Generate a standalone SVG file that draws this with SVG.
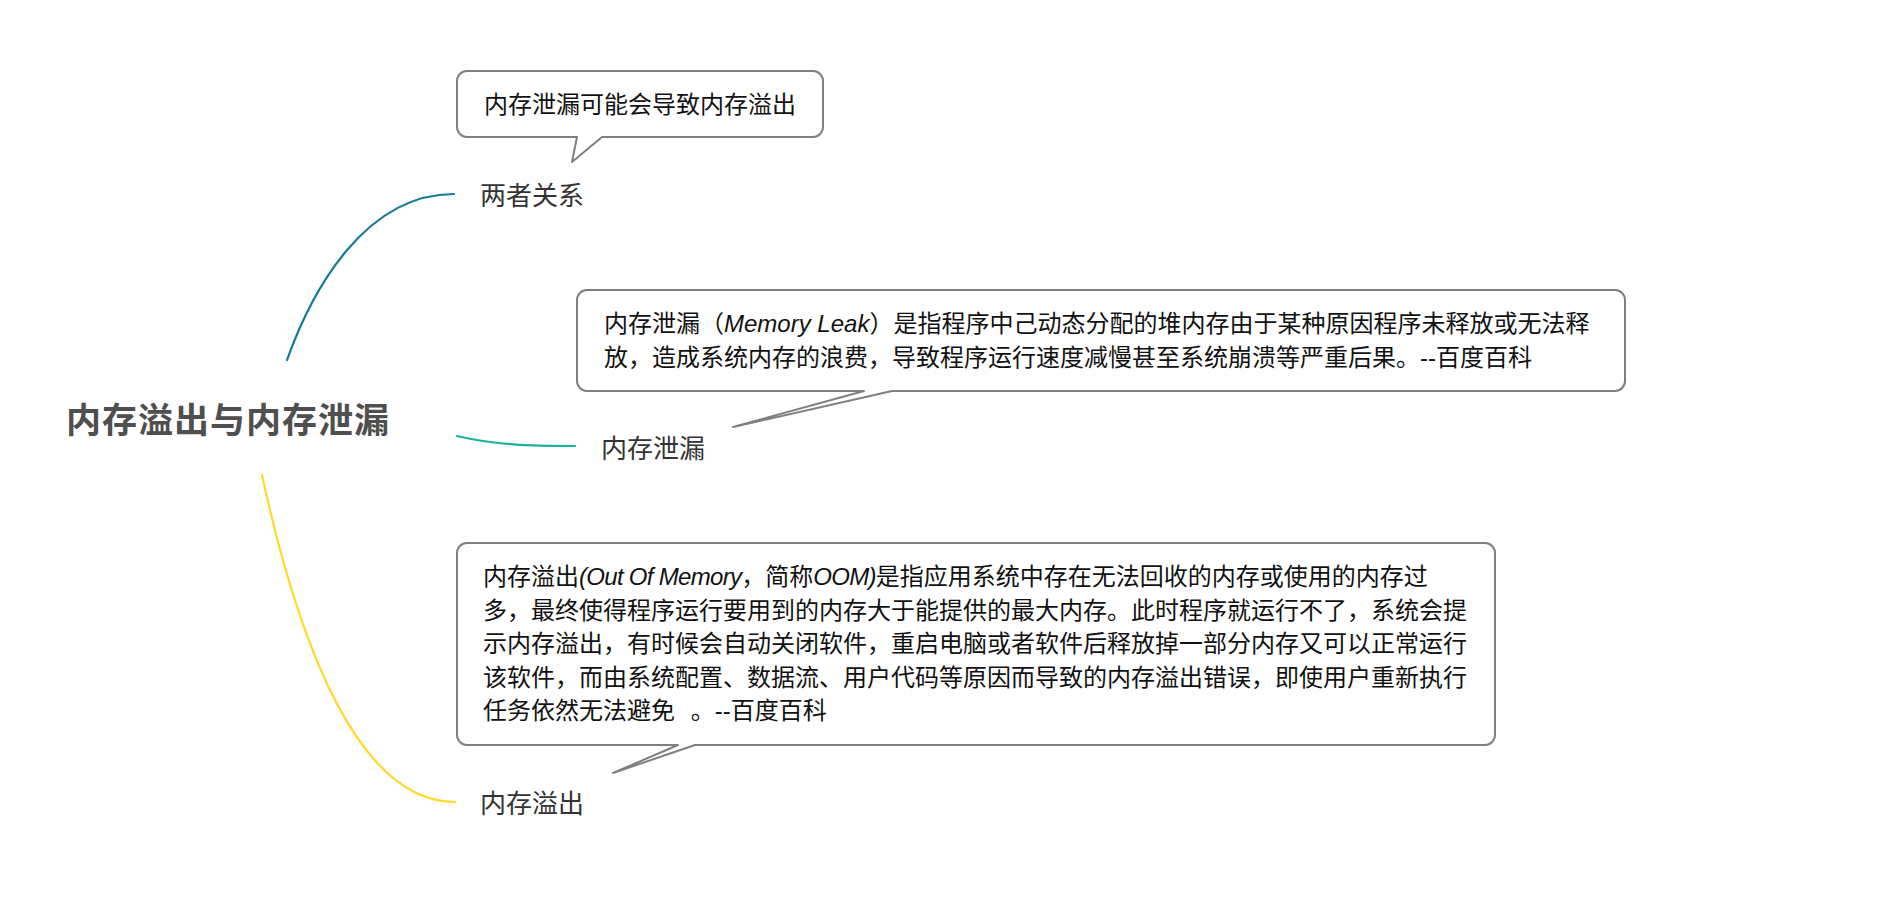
<svg xmlns="http://www.w3.org/2000/svg" width="1884" height="914" viewBox="0 0 1884 914">
<style>
.title{font-family:"Noto Sans CJK SC","Liberation Sans",sans-serif;font-size:35px;font-weight:bold;fill:#4f4f4f;letter-spacing:1px}
.label{font-family:"Noto Sans CJK SC","Liberation Sans",sans-serif;font-size:26px;fill:#333333}
.note{font-family:"Liberation Sans","Noto Sans CJK SC",sans-serif;font-size:24px;fill:#111111}
.it{font-style:italic}
.tight{letter-spacing:-0.7px}
.callout{fill:#ffffff;stroke:#808080;stroke-width:2;stroke-linejoin:round}
.edge{fill:none;stroke-width:2.2;stroke-linecap:round}
</style>
<rect width="1884" height="914" fill="#ffffff"/>
<g id="connectors">
<path class="edge" stroke="#137c95" d="M287,360 C312,290 365,194 454,194"/>
<path class="edge" stroke="#1bb39a" d="M457,436 C495,445 530,446 575,446"/>
<path class="edge" stroke="#ffd92e" d="M262,475 C300,650 360,802 455,802"/>
</g>
<g id="root">
<text class="title" x="66" y="433">内存溢出与内存泄漏</text>
</g>
<g id="node-relation">
<text class="label" x="480" y="205">两者关系</text>
</g>
<g id="callout-relation">
<path class="callout" d="M467,71 H813 A10,10 0 0 1 823,81 V127 A10,10 0 0 1 813,137 H602 L572,162 L577,137 H467 A10,10 0 0 1 457,127 V81 A10,10 0 0 1 467,71 Z"/>
<text class="note" x="484" y="113">内存泄漏可能会导致内存溢出</text>
</g>
<g id="node-leak">
<text class="label" x="601" y="458">内存泄漏</text>
</g>
<g id="callout-leak">
<path class="callout" d="M587,290 H1615 A10,10 0 0 1 1625,300 V381 A10,10 0 0 1 1615,391 H892 L733,427 L864,391 H587 A10,10 0 0 1 577,381 V300 A10,10 0 0 1 587,290 Z"/>
<text class="note" x="604" y="332">内存泄漏（<tspan class="it">Memory Leak</tspan>）是指程序中己动态分配的堆内存由于某种原因程序未释放或无法释</text>
<text class="note" x="604" y="366">放，造成系统内存的浪费，导致程序运行速度减慢甚至系统崩溃等严重后果。--百度百科</text>
</g>
<g id="node-oom">
<text class="label" x="480" y="813">内存溢出</text>
</g>
<g id="callout-oom">
<path class="callout" d="M467,543 H1485 A10,10 0 0 1 1495,553 V735 A10,10 0 0 1 1485,745 H695 L613,773 L678,745 H467 A10,10 0 0 1 457,735 V553 A10,10 0 0 1 467,543 Z"/>
<text class="note" x="483" y="585">内存溢出<tspan class="it tight">(Out Of Memory</tspan>，简称<tspan class="it tight">OOM)</tspan>是指应用系统中存在无法回收的内存或使用的内存过</text>
<text class="note" x="483" y="618.6">多，最终使得程序运行要用到的内存大于能提供的最大内存。此时程序就运行不了，系统会提</text>
<text class="note" x="483" y="652.2">示内存溢出，有时候会自动关闭软件，重启电脑或者软件后释放掉一部分内存又可以正常运行</text>
<text class="note" x="483" y="685.8">该软件，而由系统配置、数据流、用户代码等原因而导致的内存溢出错误，即使用户重新执行</text>
<text class="note" x="483" y="719.4">任务依然无法避免 <tspan dx="9">。--百度百科</tspan></text>
</g>
</svg>
